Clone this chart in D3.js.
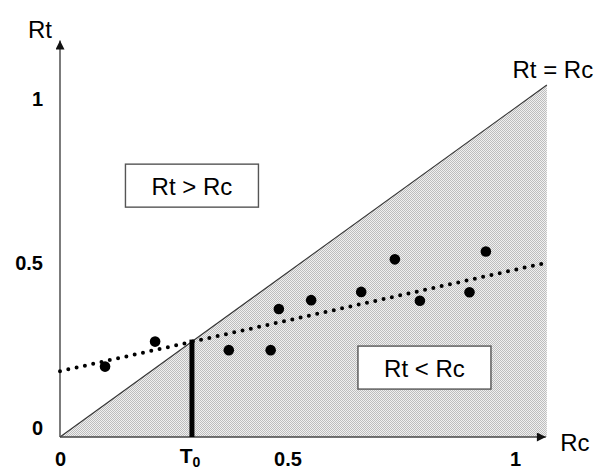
<!DOCTYPE html>
<html>
<head>
<meta charset="utf-8">
<script src="https://cdn.jsdelivr.net/npm/d3@7"></script>
<style>
  body { margin: 0; background: #fff; }
  svg { display: block; font-family: "Liberation Sans", Arial, sans-serif; }
</style>
</head>
<body>
<div id="chart"></div>
<script>
// data (Rc, Rt)
var rcValues = [0.099, 0.209, 0.371, 0.463, 0.481, 0.552, 0.662, 0.736, 0.791, 0.900, 0.936];
var rtValues = [0.214, 0.290, 0.264, 0.264, 0.389, 0.416, 0.441, 0.540, 0.414, 0.440, 0.564];
// fitted trend line end points
var trendRc = [0, 1.07];
var trendRt = [0.20, 0.53];
var t0 = 0.29;
var xTicks = [0, 0.5, 1];
var yTicks = [0, 0.5, 1];
var regionLabels = ["Rt > Rc", "Rt < Rc"];
var regionRc = [0.29, 0.801];
var regionRt = [0.764, 0.211];

var vWidth = 599, vHeight = 471;
var vMax = 1.07;      // extent of the Rt = Rc triangle
var vYAxisMax = 1.205; // top of the Rt arrow

var svg = d3.select("#chart").append("svg")
    .attr("width", vWidth)
    .attr("height", vHeight);

var x = d3.scaleLinear().domain([0, 1]).range([60, 515]);
var y = d3.scaleLinear().domain([0, 1]).range([437, 108]);

// dotted fill pattern
var defs = svg.append("defs");
var pat = defs.append("pattern")
    .attr("id", "dots")
    .attr("patternUnits", "userSpaceOnUse")
    .attr("width", 2).attr("height", 2);
pat.append("rect").attr("width", 2).attr("height", 2).attr("fill", "#f0f0f0");
pat.append("rect").attr("x", 0).attr("y", 0).attr("width", 1).attr("height", 1).attr("fill", "#bdbdbd");
pat.append("rect").attr("x", 1).attr("y", 1).attr("width", 1).attr("height", 1).attr("fill", "#bdbdbd");

defs.append("marker")
    .attr("id", "arrow")
    .attr("markerUnits", "userSpaceOnUse")
    .attr("viewBox", "0 0 10 10")
    .attr("refX", 10).attr("refY", 5)
    .attr("markerWidth", 11).attr("markerHeight", 9)
    .attr("orient", "auto")
    .append("path")
    .attr("d", "M0,0 L10,5 L0,10 z")
    .attr("fill", "#111");

// Rt < Rc region
var line = d3.line().x(function (d) { return x(d[0]); }).y(function (d) { return y(d[1]); });
svg.append("path")
    .attr("d", line([[0, 0], [vMax, 0], [vMax, vMax]]) + "Z")
    .attr("fill", "url(#dots)");

// Rt = Rc diagonal
svg.append("path")
    .attr("d", line([[0, 0], [vMax, vMax]]))
    .attr("stroke", "#333")
    .attr("stroke-width", 1.1)
    .attr("fill", "none");

// axes
svg.append("line")
    .attr("x1", x(0)).attr("y1", y(0))
    .attr("x2", x(vMax) - 1).attr("y2", y(0))
    .attr("stroke", "#444").attr("stroke-width", 1.4)
    .attr("marker-end", "url(#arrow)");
svg.append("line")
    .attr("x1", x(0)).attr("y1", y(0))
    .attr("x2", x(0)).attr("y2", y(vYAxisMax))
    .attr("stroke", "#444").attr("stroke-width", 1.4)
    .attr("marker-end", "url(#arrow)");

var xAxis = svg.append("g")
    .attr("transform", "translate(0," + y(0) + ")")
    .call(d3.axisBottom(x).tickValues(xTicks).tickSize(0).tickPadding(15).tickFormat(d3.format("")));
var yAxis = svg.append("g")
    .attr("transform", "translate(" + x(0) + ",0)")
    .call(d3.axisLeft(y).tickValues(yTicks).tickSize(0).tickPadding(17).tickFormat(d3.format("")));
svg.selectAll(".domain").remove();
svg.selectAll(".tick text")
    .attr("font-family", "Liberation Sans, Arial, sans-serif")
    .attr("font-size", 20)
    .attr("font-weight", "bold")
    .attr("fill", "#000");
yAxis.selectAll(".tick text").attr("y", -9);

// axis titles
svg.append("text")
    .attr("x", x(0) - 20).attr("y", y(vYAxisMax) - 3)
    .attr("text-anchor", "middle")
    .attr("font-size", 24)
    .text("Rt");
svg.append("text")
    .attr("x", x(vMax) + 28).attr("y", y(0) + 14)
    .attr("text-anchor", "middle")
    .attr("font-size", 24)
    .text("Rc");
svg.append("text")
    .attr("x", x(vMax) + 6).attr("y", y(vMax) - 7)
    .attr("text-anchor", "middle")
    .attr("font-size", 24)
    .text("Rt = Rc");

// T0 marker
svg.append("line")
    .attr("x1", x(t0)).attr("y1", y(0))
    .attr("x2", x(t0)).attr("y2", y(t0) - 2)
    .attr("stroke", "#000").attr("stroke-width", 5);
var tLabel = svg.append("text")
    .attr("x", x(t0) - 2).attr("y", 463)
    .attr("text-anchor", "middle")
    .attr("font-size", 21)
    .attr("font-weight", "bold");
tLabel.append("tspan").text("T");
tLabel.append("tspan").attr("font-size", 14).attr("dy", 4).text("0");

// trend line (dotted)
svg.append("path")
    .attr("d", line(d3.zip(trendRc, trendRt)))
    .attr("stroke", "#000")
    .attr("stroke-width", 4)
    .attr("stroke-linecap", "round")
    .attr("stroke-dasharray", "0,8.5")
    .attr("fill", "none");

// points
svg.append("g").selectAll("circle")
    .data(d3.zip(rcValues, rtValues))
    .enter()
    .append("circle")
    .attr("cx", function (d) { return x(d[0]); })
    .attr("cy", function (d) { return y(d[1]); })
    .attr("r", 5.3)
    .attr("fill", "#000");

// region labels in boxes
var boxW = 133, boxH = 43;
var boxes = svg.append("g").selectAll("g")
    .data(d3.zip(regionLabels, regionRc, regionRt))
    .enter()
    .append("g")
    .attr("transform", function (d) { return "translate(" + x(d[1]) + "," + y(d[2]) + ")"; });
boxes.append("rect")
    .attr("x", -boxW / 2).attr("y", -boxH / 2)
    .attr("width", boxW).attr("height", boxH)
    .attr("fill", "#fff")
    .attr("stroke", "#555")
    .attr("stroke-width", 1.4);
boxes.append("text")
    .attr("text-anchor", "middle")
    .attr("dy", "0.38em")
    .attr("font-size", 24)
    .text(function (d) { return d[0]; });
</script>
</body>
</html>
